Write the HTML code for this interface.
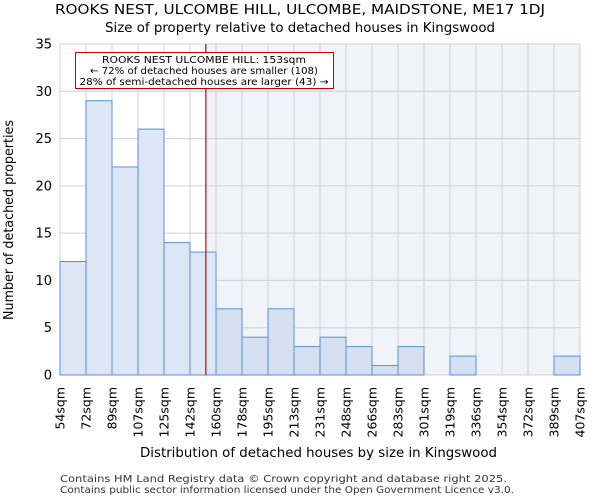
<!DOCTYPE html>
<html><head><meta charset="utf-8"><style>
body{margin:0;background:#fff;font-family:"DejaVu Sans","Liberation Sans",sans-serif}
</style></head><body>
<svg width="600" height="500" id="c" font-family="DejaVu Sans, Liberation Sans, sans-serif">
<text x="55" y="14" textLength="490" lengthAdjust="spacingAndGlyphs" font-size="13">ROOKS NEST, ULCOMBE HILL, ULCOMBE, MAIDSTONE, ME17 1DJ</text>
<text x="105" y="32" textLength="390" lengthAdjust="spacingAndGlyphs" font-size="13">Size of property relative to detached houses in Kingswood</text>
<g id="plot"></g>
<text x="140" y="457" textLength="357" lengthAdjust="spacingAndGlyphs" font-size="13">Distribution of detached houses by size in Kingswood</text>
<text transform="translate(13,320) rotate(-90)" textLength="200" lengthAdjust="spacingAndGlyphs" font-size="13">Number of detached properties</text>
<text x="60" y="482" textLength="447" lengthAdjust="spacingAndGlyphs" font-size="10" fill="#333">Contains HM Land Registry data © Crown copyright and database right 2025.</text>
<text x="60" y="493" textLength="454" lengthAdjust="spacingAndGlyphs" font-size="10" fill="#333">Contains public sector information licensed under the Open Government Licence v3.0.</text>
</svg>
<script>
const labels=["54sqm","72sqm","89sqm","107sqm","125sqm","142sqm","160sqm","178sqm","195sqm","213sqm","231sqm","248sqm","266sqm","283sqm","301sqm","319sqm","336sqm","354sqm","372sqm","389sqm","407sqm"];
const counts=[12,29,22,26,14,13,7,4,7,3,4,3,1,3,0,2,0,0,0,2];
const yTicks=[0,5,10,15,20,25,30,35];
const marker=153;
const xMin=54,xMax=407;
const L=60,R=580,T=44,B=375,yMax=35;
const NS="http://www.w3.org/2000/svg";
const g=document.getElementById('plot');
const n=counts.length,bw=(R-L)/n;
const xs=v=>L+(v-xMin)/(xMax-xMin)*(R-L);
const ys=v=>B-v/yMax*(B-T);
function el(t,a){const e=document.createElementNS(NS,t);for(const k in a)e.setAttribute(k,a[k]);g.appendChild(e);return e;}
const mx=xs(marker);
let e=el('rect',{x:mx,y:T,width:R-mx,height:B-T,fill:'#f1f3fb'});


for(let i=0;i<=n;i++){e=el('line',{x1:L+i*bw,x2:L+i*bw,y1:T,y2:B,stroke:'#d0d0d0'});

}
yTicks.forEach(t=>{e=el('line',{x1:L,x2:R,y1:ys(t),y2:ys(t),stroke:'#d0d0d0'});


e=el('text',{x:L-8,y:ys(t)+4.5,'text-anchor':'end','font-size':13});e.textContent=t;

});
counts.forEach((c,i)=>{const x=L+i*bw;const after=x>=mx;
e=el('rect',{x:x,y:ys(c),width:bw,height:B-ys(c),fill:after?'#d5e0f2':'#dce6f4',stroke:'#5b8fd6','stroke-width':1});

});
labels.forEach((l,i)=>{const x=L+i*bw;
e=el('text',{transform:`translate(${x+4.5},${387}) rotate(-90)`,'text-anchor':'end','font-size':12.5});e.textContent=l;

});
e=el('line',{x1:mx,x2:mx,y1:T,y2:B,stroke:'#cc0000','stroke-width':1.2});


e=el('rect',{x:75.5,y:52.5,width:258,height:36,fill:'#fff',stroke:'#cc0000'});


[["ROOKS NEST ULCOMBE HILL: 153sqm",63,204],["← 72% of detached houses are smaller (108)",74,228],["28% of semi-detached houses are larger (43) →",85,249]].forEach(([t,y,w])=>{
e=el('text',{x:204,y:y,'text-anchor':'middle','font-size':10,textLength:w,lengthAdjust:'spacingAndGlyphs'});e.textContent=t;

});
</script>
</body></html>
